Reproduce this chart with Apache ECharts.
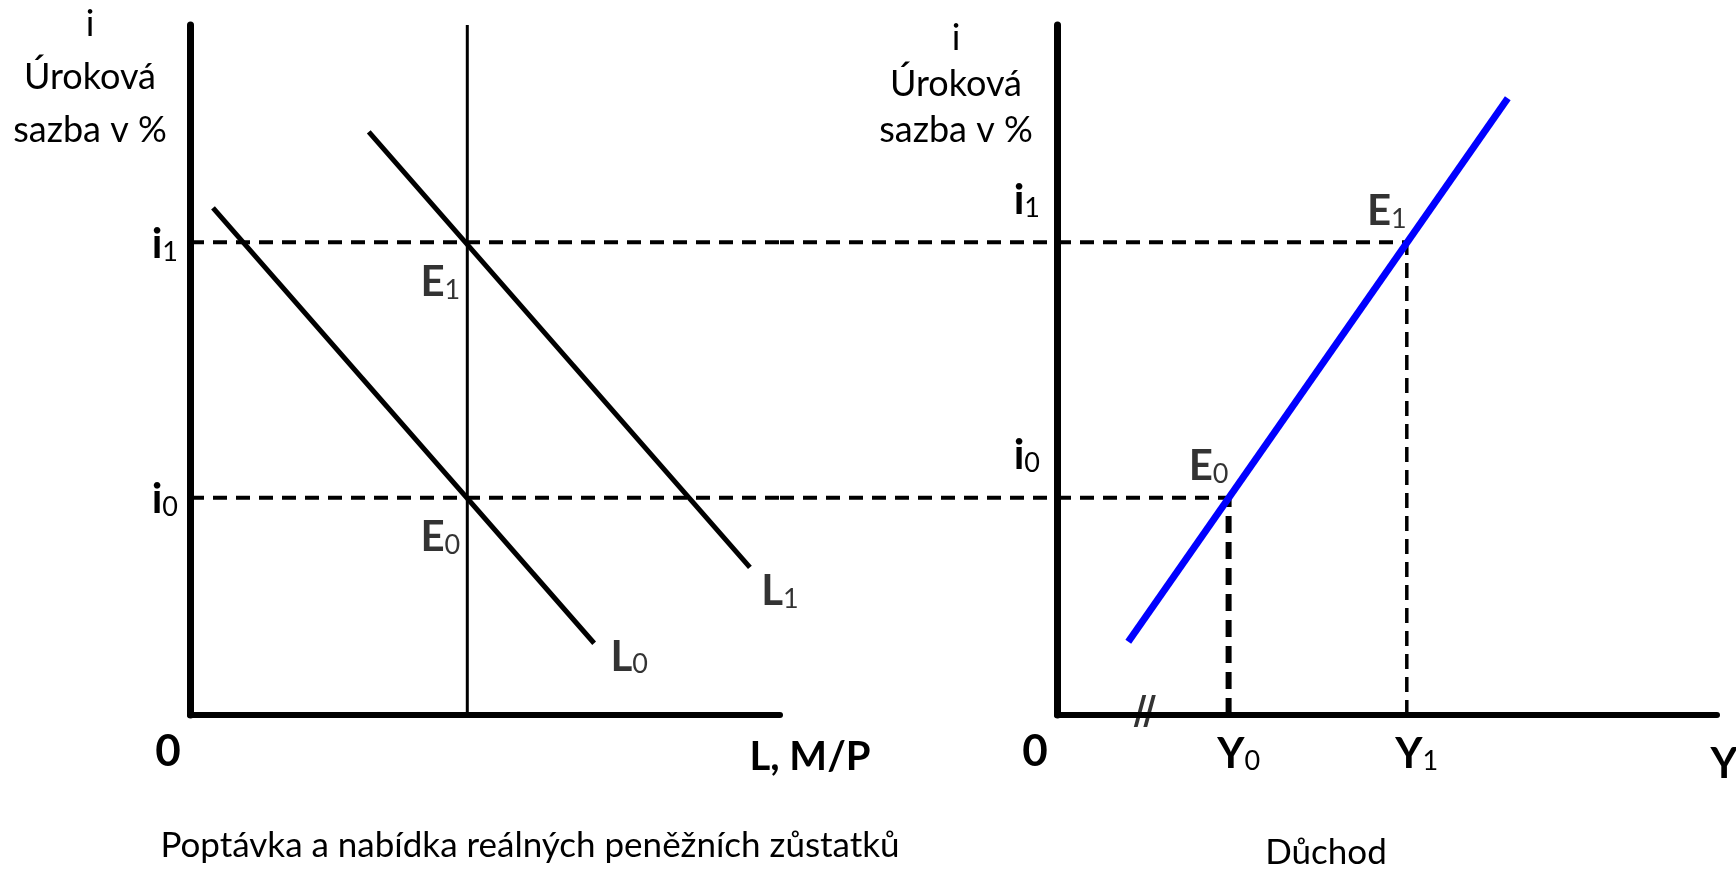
<!DOCTYPE html>
<html>
<head>
<meta charset="utf-8">
<title>Trh peněz a křivka LM</title>
<script src="https://cdn.jsdelivr.net/npm/echarts@6/dist/echarts.min.js"></script>
<style>
  html, body { margin: 0; padding: 0; background: #fff; }
  #chart { width: 1736px; height: 873px; }
</style>
</head>
<body>
<div id="chart"></div>
<script>
// both panels share the interest-rate scale 0..10
var rates = [3.15, 6.85]          // i0, i1
var rateIdx = ['0', '1']
var moneySupply = 4.7             // M/P
// money demand, [L, i]
var demandL0 = [[0.39, 7.35], [6.85, 1.04]]
var demandL1 = [[3.03, 8.45], [9.49, 2.14]]
// LM curve, [Y, i]
var lmCurve = [[1.08, 1.06], [6.83, 8.94]]
var incomes = [2.6, 5.3]          // Y0, Y1
var breakMark = [[1.33, 0]]

var FONT = 'Lato'
var SUB = {
  m: {fontFamily: FONT, fontWeight: 'bold', fontSize: 42, lineHeight: 46, verticalAlign: 'bottom', color: '#000'},
  s: {fontFamily: FONT, fontSize: 27, lineHeight: 30, verticalAlign: 'bottom', color: '#000'}
}
function sub(main, idx) {
  return '{m|' + main + '}{s|' + idx + '}'
}
function merge(a, b) {
  var rv = {}
  Object.keys(a).forEach(k => { rv[k] = a[k] })
  Object.keys(b).forEach(k => { rv[k] = b[k] })
  return rv
}

function seg(grid, data, width, color, dash) {
  return {
    type: 'line', xAxisIndex: grid, yAxisIndex: grid, data: data,
    symbol: 'none', silent: true, animation: false,
    lineStyle: {width: width, color: color, type: dash || 'solid', cap: 'butt'}
  }
}
function tag(grid, point, text, offset) {
  return {
    type: 'scatter', xAxisIndex: grid, yAxisIndex: grid, data: [point],
    symbolSize: 1, itemStyle: {color: 'rgba(0,0,0,0)'}, silent: true, animation: false,
    label: {
      show: true, position: 'inside', offset: offset, formatter: text, rich: SUB,
      color: '#000', textBorderWidth: 0
    }
  }
}

var DASH_H = [14, 9]
var series = []
// left panel: money market
rates.forEach(function (r) {
  series.push(seg(0, [[0, r], [10, r]], 4, '#000', DASH_H))
  series.push(seg(2, [[0, r], [1, r]], 4, '#000', DASH_H))
})
series.push(seg(0, [[moneySupply, 0], [moneySupply, 10]], 3, '#000'))
series.push(seg(0, demandL0, 5, '#000'))
series.push(seg(0, demandL1, 5, '#000'))
rates.forEach(function (r, k) {
  series.push(tag(0, [moneySupply, r], sub('E', rateIdx[k]), [-27, 38]))
})
series.push(tag(0, demandL0[demandL0.length - 1], sub('L', '0'), [35, 12]))
series.push(tag(0, demandL1[demandL1.length - 1], sub('L', '1'), [30, 22]))

// right panel: LM curve
rates.forEach(function (r, k) {
  series.push(seg(1, [[0, r], [incomes[k], r]], 4, '#000', DASH_H))
})
series.push(seg(1, [[incomes[0], 0], [incomes[0], rates[0]]], 6, '#000', [17, 9]))
series.push(seg(1, [[incomes[1], 0], [incomes[1], rates[1]]], 3.5, '#000', [15, 8]))
series.push(seg(1, lmCurve, 7, '#0000ff'))
rates.forEach(function (r, k) {
  series.push(tag(1, [incomes[k], r], sub('E', rateIdx[k]), [-20, -33]))
})
// axis break "//"
series.push({
  type: 'scatter', xAxisIndex: 1, yAxisIndex: 1, data: breakMark, silent: true, animation: false,
  symbol: 'path://M0,32L9,0L13,0L4,32Z M10,32L19,0L23,0L14,32Z',
  symbolSize: [22, 32], symbolKeepAspect: false, symbolOffset: [0, -4], itemStyle: {color: '#000'}
})

var AXIS_RICH = {
  z: {fontFamily: FONT, fontWeight: 'bold', fontSize: 44, lineHeight: 46, color: '#000', padding: [0, 44, 0, 0]},
  n: {fontFamily: FONT, fontWeight: 'bold', fontSize: 40, lineHeight: 46, color: '#000', padding: [10, 0, 0, 60]},
  ym: merge(SUB.m, {padding: [14, 0, 0, 20]}),
  yn: {fontFamily: FONT, fontWeight: 'bold', fontSize: 42, lineHeight: 46, color: '#000', padding: [25, 0, 0, 14]},
  s: SUB.s
}

function xAxis(grid, values, fmt) {
  return {
    gridIndex: grid, type: 'value', min: 0, max: 10,
    splitLine: {show: false}, axisTick: {show: false},
    axisLine: {lineStyle: {color: '#000', width: 6}},
    axisLabel: {customValues: values, margin: 14, color: '#000', formatter: fmt, rich: AXIS_RICH}
  }
}
function yAxis(grid, margin, padding) {
  return {
    gridIndex: grid, type: 'value', min: 0, max: 10,
    splitLine: {show: false}, axisTick: {show: false},
    axisLine: {lineStyle: {color: '#000', width: 7}},
    axisLabel: {
      customValues: rates, margin: margin, padding: padding, rich: SUB, color: '#000',
      formatter: function (v) { return sub('i', rateIdx[rates.indexOf(v)]) }
    }
  }
}

var option = {
  animation: false,
  textStyle: {fontFamily: FONT},
  grid: [
    {left: 190, top: 25, width: 590, height: 690, containLabel: false, outerBoundsMode: 'none'},
    {left: 1057, top: 25, width: 660, height: 690, containLabel: false, outerBoundsMode: 'none'},
    {left: 780, top: 25, width: 277, height: 690, containLabel: false, outerBoundsMode: 'none'}
  ],
  xAxis: [
    xAxis(0, [0, 10], function (v) { return v === 0 ? '{z|0}' : '{n|L, M/P}' }),
    xAxis(1, [0, incomes[0], incomes[1], 10], function (v) {
      if (v === 0) return '{z|0}'
      if (v === 10) return '{yn|Y}'
      return '{ym|Y}{s|' + incomes.indexOf(v) + '}'
    }),
    {gridIndex: 2, type: 'value', min: 0, max: 1, show: false}
  ],
  yAxis: [
    yAxis(0, 12, 0),
    yAxis(1, 17, [0, 0, 88, 0]),
    {gridIndex: 2, type: 'value', min: 0, max: 10, show: false}
  ],
  graphic: [
    {type: 'text', x: 90, y: -2, silent: true,
      style: {text: 'i\nÚroková\nsazba v %', align: 'center', verticalAlign: 'top', font: '36px Lato', lineHeight: 53, fill: '#000'}},
    {type: 'text', x: 956, y: 15, silent: true,
      style: {text: 'i\nÚroková\nsazba v %', align: 'center', verticalAlign: 'top', font: '36px Lato', lineHeight: 46, fill: '#000'}},
    {type: 'text', x: 530, y: 825, silent: true,
      style: {text: 'Poptávka a nabídka reálných peněžních zůstatků', align: 'center', verticalAlign: 'top', font: '35px Lato', lineHeight: 42, fill: '#000'}},
    {type: 'text', x: 1326, y: 832, silent: true,
      style: {text: 'Důchod', align: 'center', verticalAlign: 'top', font: '35px Lato', lineHeight: 42, fill: '#000'}}
  ],
  series: series
}

var chart = echarts.init(document.getElementById('chart'))
chart.setOption(option)
</script>
</body>
</html>
